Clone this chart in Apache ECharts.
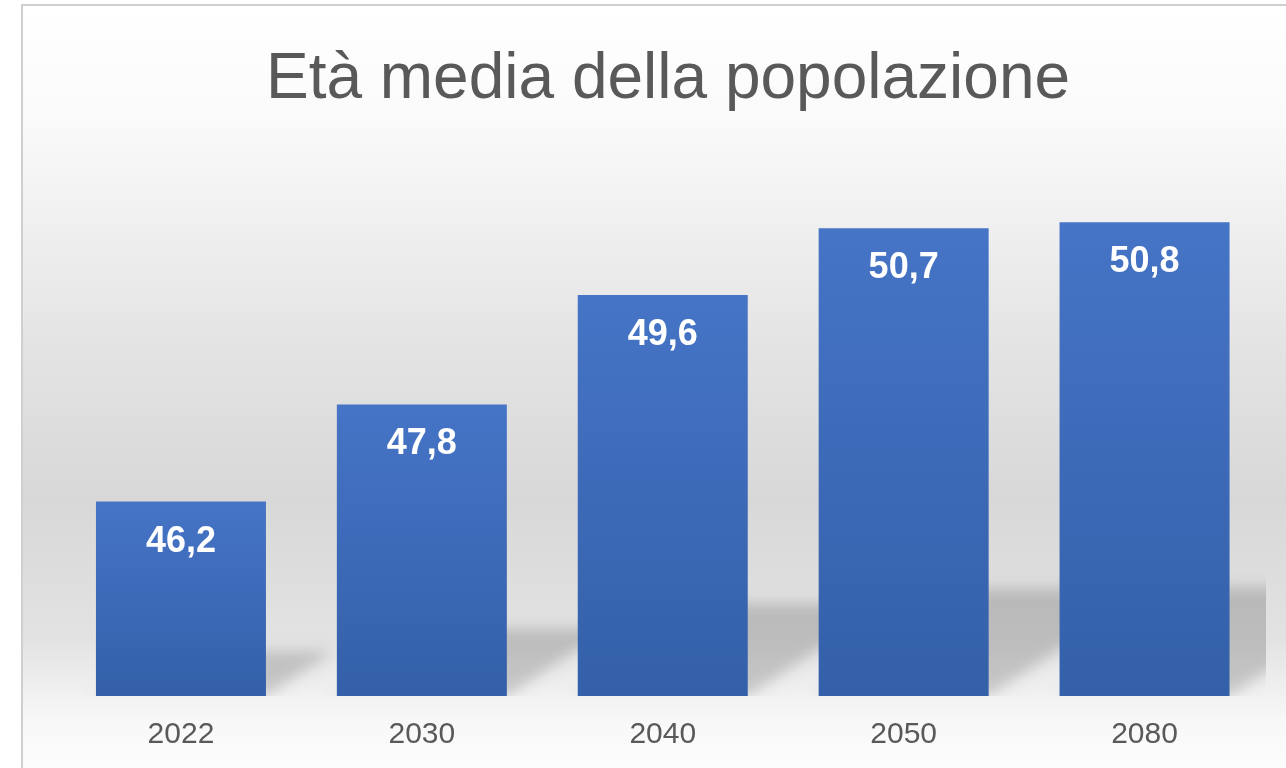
<!DOCTYPE html>
<html lang="it">
<head>
<meta charset="utf-8">
<title>Età media della popolazione</title>
<script src="https://cdn.jsdelivr.net/npm/echarts@6/dist/echarts.min.js"></script>
<style>
  html, body { margin: 0; padding: 0; background: #ffffff; }
  #chart { width: 1286px; height: 768px; }
</style>
</head>
<body>
<div id="chart"></div>
<script>
// Anni di riferimento e età media (anni)
const years = ['2022', '2030', '2040', '2050', '2080'];
const medianAge = [46.2, 47.8, 49.6, 50.7, 50.8];
const titleText = 'Età media della popolazione';

const Y_MIN = 43;
const Y_MAX = 51;
const BAR_W = 170;
const FONT = "'Liberation Sans', Arial, sans-serif";
const SHIFT = 3000; // the shape sits off to the left; only its blurred shadow is drawn in place

const chart = echarts.init(document.getElementById('chart'), null, { renderer: 'canvas' });

// Ombra prospettica proiettata da ogni colonna verso destra (sfumata)
function renderShadow(params, api) {
  const i = api.value(0);
  const v = api.value(1);
  const top = api.coord([i, v]);
  const base = api.coord([i, Y_MIN]);
  const xl = top[0] - BAR_W / 2;
  const xr = top[0] + BAR_W / 2;
  const yb = base[1];
  const h = yb - top[1];
  const dy = h * 0.23;
  const dx = h * 0.35;
  const pts = [[xl, yb], [xr, yb], [xr + dx, yb - dy], [xl + dx, yb - dy]]
    .map(p => [p[0] - SHIFT, p[1]]);
  return {
    type: 'polygon',
    shape: { points: pts },
    style: {
      fill: '#000',
      shadowBlur: 14,
      shadowOffsetX: SHIFT,
      shadowColor: 'rgba(0,0,0,0.17)'
    }
  };
}

chart.setOption({
  animation: false,
  backgroundColor: '#ffffff',
  graphic: [{
    type: 'rect',
    z: -100,
    silent: true,
    shape: { x: 22, y: 5, width: 1270, height: 770 },
    style: {
      fill: new echarts.graphic.LinearGradient(0, 0, 0, 1, [
        { offset: 0, color: '#ffffff' },
        { offset: 0.15, color: '#fafafa' },
        { offset: 0.45, color: '#e3e3e3' },
        { offset: 0.64, color: '#d8d8d8' },
        { offset: 0.82, color: '#e2e2e2' },
        { offset: 0.93, color: '#f8f8f8' },
        { offset: 1, color: '#fdfdfd' }
      ]),
      stroke: '#cfcfcf',
      lineWidth: 2
    }
  }],
  title: {
    text: titleText,
    left: 663,
    top: 43,
    textAlign: 'center',
    textStyle: { fontFamily: FONT, fontSize: 64, fontWeight: 'normal', color: '#595959' }
  },
  grid: { left: 60.5, right: 21, top: 210, bottom: 72, containLabel: false },
  xAxis: {
    type: 'category',
    data: years,
    axisLine: { show: false },
    axisTick: { show: false },
    splitLine: { show: false },
    axisLabel: { fontFamily: FONT, fontSize: 30, color: '#595959', margin: 24 }
  },
  yAxis: {
    type: 'value',
    min: Y_MIN,
    max: Y_MAX,
    show: false,
    splitLine: { show: false }
  },
  series: [
    {
      type: 'custom',
      clip: true,
      z: 1,
      silent: true,
      renderItem: renderShadow,
      encode: { x: 0, y: 1 },
      data: medianAge.map((v, i) => [i, v])
    },
    {
      type: 'bar',
      z: 3,
      barWidth: BAR_W,
      data: medianAge,
      itemStyle: {
        color: new echarts.graphic.LinearGradient(0, 0, 0, 1, [
          { offset: 0, color: '#4674c6' },
          { offset: 1, color: '#3460a9' }
        ])
      },
      label: {
        show: true,
        position: ['50%', 40],
        align: 'center',
        verticalAlign: 'middle',
        fontFamily: FONT,
        fontSize: 36,
        fontWeight: 'bold',
        color: '#ffffff',
        formatter: p => String(p.value).replace('.', ',')
      }
    }
  ]
});
</script>
</body>
</html>
